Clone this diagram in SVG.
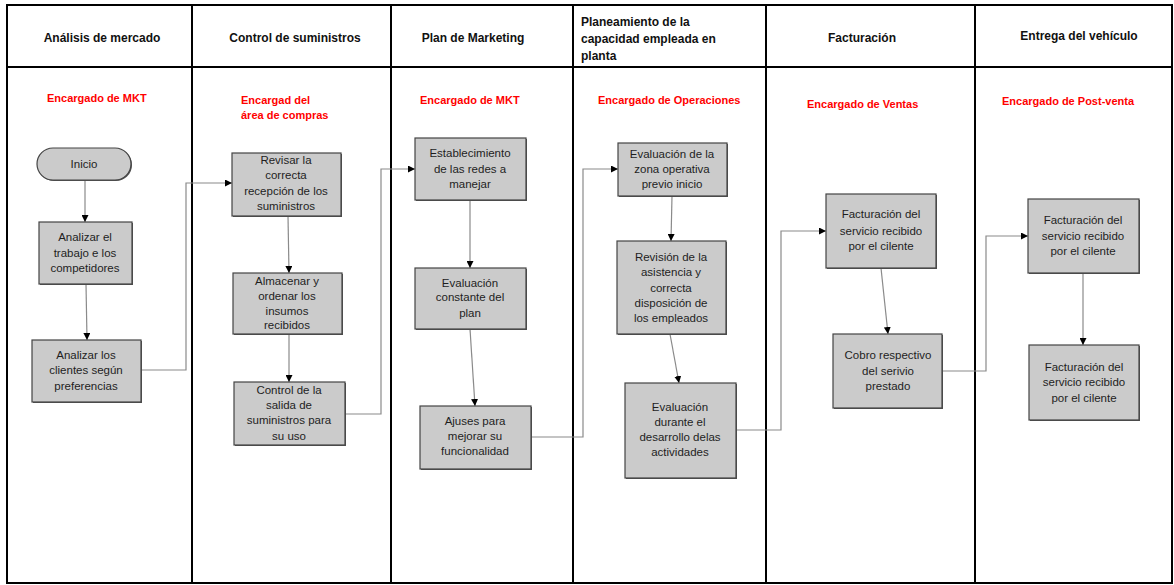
<svg xmlns="http://www.w3.org/2000/svg" width="1174" height="585" viewBox="0 0 1174 585">
  <defs>
    <marker id="arr" viewBox="0 0 10 10" refX="10" refY="5" markerWidth="7" markerHeight="7" markerUnits="userSpaceOnUse" orient="auto">
      <path d="M0,0 L10,5 L0,10 z" fill="#000"/>
    </marker>
  </defs>
  <style>
    .lane { fill: none; stroke: #000; stroke-width: 2; }
    .hdr { font-family: "Liberation Sans", Arial, sans-serif; font-size: 12px; font-weight: bold; fill: #111; }
    .role { font-family: "Liberation Sans", Arial, sans-serif; font-size: 11px; font-weight: bold; fill: #ff0000; }
    .box { fill: #cbcbcb; stroke: #444; stroke-width: 1.2; }
    .shd { fill: #555; }
    .lbl { font-family: "Liberation Sans", Arial, sans-serif; font-size: 11.5px; fill: #1e1e1e; text-anchor: middle; }
    .con { fill: none; stroke: #8a8a8a; stroke-width: 1.2; marker-end: url(#arr); }
  </style>
  <rect width="1174" height="585" fill="#fff"/>

  <g id="lanes">
    <rect class="lane" x="7" y="5" width="1165" height="578"/>
    <line class="lane" x1="7" y1="67" x2="1172" y2="67"/>
    <line class="lane" x1="192" y1="5" x2="192" y2="583"/>
    <line class="lane" x1="391" y1="5" x2="391" y2="583"/>
    <line class="lane" x1="573" y1="5" x2="573" y2="583"/>
    <line class="lane" x1="766" y1="5" x2="766" y2="583"/>
    <line class="lane" x1="975" y1="5" x2="975" y2="583"/>
  </g>

  <g id="headers">
    <text class="hdr" x="102" y="42" text-anchor="middle">Análisis de mercado</text>
    <text class="hdr" x="295" y="42" text-anchor="middle">Control de suministros</text>
    <text class="hdr" x="473" y="42" text-anchor="middle">Plan de Marketing</text>
    <text class="hdr" x="581" y="26">Planeamiento de la</text>
    <text class="hdr" x="581" y="43">capacidad empleada en</text>
    <text class="hdr" x="581" y="60">planta</text>
    <text class="hdr" x="862" y="42" text-anchor="middle">Facturación</text>
    <text class="hdr" x="1079" y="40" text-anchor="middle">Entrega del vehículo</text>
  </g>

  <g id="roles">
    <text class="role" x="47" y="102">Encargado de MKT</text>
    <text class="role" x="241" y="104">Encargad del</text>
    <text class="role" x="241" y="119">área de compras</text>
    <text class="role" x="420" y="104">Encargado de MKT</text>
    <text class="role" x="598" y="104">Encargado de Operaciones</text>
    <text class="role" x="807" y="108">Encargado de Ventas</text>
    <text class="role" x="1002" y="105">Encargado de Post-venta</text>
  </g>

  <g id="connectors">
    <line class="con" x1="85" y1="180" x2="85" y2="222"/>
    <line class="con" x1="86" y1="284" x2="87" y2="340"/>
    <polyline class="con" points="141,370 186,370 186,183 232,183"/>
    <line class="con" x1="288" y1="216" x2="289" y2="273"/>
    <line class="con" x1="289" y1="334" x2="289" y2="382"/>
    <polyline class="con" points="345,414 381,414 381,169 415,169"/>
    <line class="con" x1="470" y1="200" x2="470" y2="268"/>
    <line class="con" x1="470" y1="329" x2="475" y2="406"/>
    <polyline class="con" points="531,437 583,437 583,169 618,169"/>
    <line class="con" x1="672" y1="196" x2="671" y2="241"/>
    <line class="con" x1="670" y1="334" x2="679" y2="383"/>
    <polyline class="con" points="736,430 781,430 781,231 826,231"/>
    <line class="con" x1="881" y1="268" x2="888" y2="334"/>
    <polyline class="con" points="942,371 986,371 986,236 1028,236"/>
    <line class="con" x1="1083" y1="273" x2="1083" y2="345"/>
  </g>

  <g id="n-inicio">
    <rect class="shd" x="38" y="149" width="94" height="32" rx="16"/>
    <rect class="box" x="37" y="148" width="94" height="32" rx="16"/>
    <text class="lbl" x="84" y="168">Inicio</text>
  </g>
  <g id="n-analizar-trabajo">
    <rect class="shd" x="40" y="223" width="93" height="62"/>
    <rect class="box" x="39" y="222" width="93" height="62"/>
    <text class="lbl" x="85" y="241">Analizar el</text>
    <text class="lbl" x="85" y="257">trabajo e los</text>
    <text class="lbl" x="85" y="272">competidores</text>
  </g>
  <g id="n-analizar-clientes">
    <rect class="shd" x="33" y="341" width="109" height="62"/>
    <rect class="box" x="32" y="340" width="109" height="62"/>
    <text class="lbl" x="86" y="359">Analizar los</text>
    <text class="lbl" x="86" y="374">clientes según</text>
    <text class="lbl" x="86" y="390">preferencias</text>
  </g>

  <g id="n-revisar">
    <rect class="shd" x="233" y="154" width="109" height="63"/>
    <rect class="box" x="232" y="153" width="109" height="63"/>
    <text class="lbl" x="286" y="164">Revisar la</text>
    <text class="lbl" x="286" y="179">correcta</text>
    <text class="lbl" x="286" y="195">recepción de los</text>
    <text class="lbl" x="286" y="210">suministros</text>
  </g>
  <g id="n-almacenar">
    <rect class="shd" x="234" y="274" width="109" height="61"/>
    <rect class="box" x="233" y="273" width="109" height="61"/>
    <text class="lbl" x="287" y="285">Almacenar y</text>
    <text class="lbl" x="287" y="300">ordenar los</text>
    <text class="lbl" x="287" y="315">insumos</text>
    <text class="lbl" x="287" y="329">recibidos</text>
  </g>
  <g id="n-control">
    <rect class="shd" x="235" y="383" width="111" height="63"/>
    <rect class="box" x="234" y="382" width="111" height="63"/>
    <text class="lbl" x="289" y="394">Control de la</text>
    <text class="lbl" x="289" y="409">salida de</text>
    <text class="lbl" x="289" y="424">suministros para</text>
    <text class="lbl" x="289" y="440">su uso</text>
  </g>

  <g id="n-establecimiento">
    <rect class="shd" x="416" y="139" width="111" height="62"/>
    <rect class="box" x="415" y="138" width="111" height="62"/>
    <text class="lbl" x="470" y="157">Establecimiento</text>
    <text class="lbl" x="470" y="173">de las redes a</text>
    <text class="lbl" x="470" y="188">manejar</text>
  </g>
  <g id="n-evaluacion-constante">
    <rect class="shd" x="416" y="269" width="111" height="61"/>
    <rect class="box" x="415" y="268" width="111" height="61"/>
    <text class="lbl" x="470" y="287">Evaluación</text>
    <text class="lbl" x="470" y="301">constante del</text>
    <text class="lbl" x="470" y="317">plan</text>
  </g>
  <g id="n-ajuses">
    <rect class="shd" x="421" y="407" width="111" height="63"/>
    <rect class="box" x="420" y="406" width="111" height="63"/>
    <text class="lbl" x="475" y="425">Ajuses para</text>
    <text class="lbl" x="475" y="440">mejorar su</text>
    <text class="lbl" x="475" y="455">funcionalidad</text>
  </g>

  <g id="n-evaluacion-zona">
    <rect class="shd" x="619" y="144" width="109" height="53"/>
    <rect class="box" x="618" y="143" width="109" height="53"/>
    <text class="lbl" x="672" y="158">Evaluación de la</text>
    <text class="lbl" x="672" y="173">zona operativa</text>
    <text class="lbl" x="672" y="188">previo inicio</text>
  </g>
  <g id="n-revision">
    <rect class="shd" x="618" y="242" width="109" height="93"/>
    <rect class="box" x="617" y="241" width="109" height="93"/>
    <text class="lbl" x="671" y="261">Revisión de la</text>
    <text class="lbl" x="671" y="276">asistencia y</text>
    <text class="lbl" x="671" y="292">correcta</text>
    <text class="lbl" x="671" y="307">disposición de</text>
    <text class="lbl" x="671" y="322">los empleados</text>
  </g>
  <g id="n-evaluacion-durante">
    <rect class="shd" x="626" y="384" width="111" height="95"/>
    <rect class="box" x="625" y="383" width="111" height="95"/>
    <text class="lbl" x="680" y="411">Evaluación</text>
    <text class="lbl" x="680" y="426">durante el</text>
    <text class="lbl" x="680" y="441">desarrollo delas</text>
    <text class="lbl" x="680" y="456">actividades</text>
  </g>

  <g id="n-facturacion-ventas">
    <rect class="shd" x="827" y="195" width="110" height="74"/>
    <rect class="box" x="826" y="194" width="110" height="74"/>
    <text class="lbl" x="881" y="218">Facturación del</text>
    <text class="lbl" x="881" y="235">servicio recibido</text>
    <text class="lbl" x="881" y="250">por el cilente</text>
  </g>
  <g id="n-cobro">
    <rect class="shd" x="834" y="335" width="109" height="74"/>
    <rect class="box" x="833" y="334" width="109" height="74"/>
    <text class="lbl" x="888" y="359">Cobro respectivo</text>
    <text class="lbl" x="888" y="375">del serivio</text>
    <text class="lbl" x="888" y="390">prestado</text>
  </g>

  <g id="n-facturacion-post1">
    <rect class="shd" x="1029" y="200" width="111" height="74"/>
    <rect class="box" x="1028" y="199" width="111" height="74"/>
    <text class="lbl" x="1083" y="224">Facturación del</text>
    <text class="lbl" x="1083" y="240">servicio recibido</text>
    <text class="lbl" x="1083" y="255">por el cilente</text>
  </g>
  <g id="n-facturacion-post2">
    <rect class="shd" x="1030" y="346" width="110" height="75"/>
    <rect class="box" x="1029" y="345" width="110" height="75"/>
    <text class="lbl" x="1084" y="371">Facturación del</text>
    <text class="lbl" x="1084" y="386">servicio recibido</text>
    <text class="lbl" x="1084" y="402">por el cilente</text>
  </g>
</svg>
